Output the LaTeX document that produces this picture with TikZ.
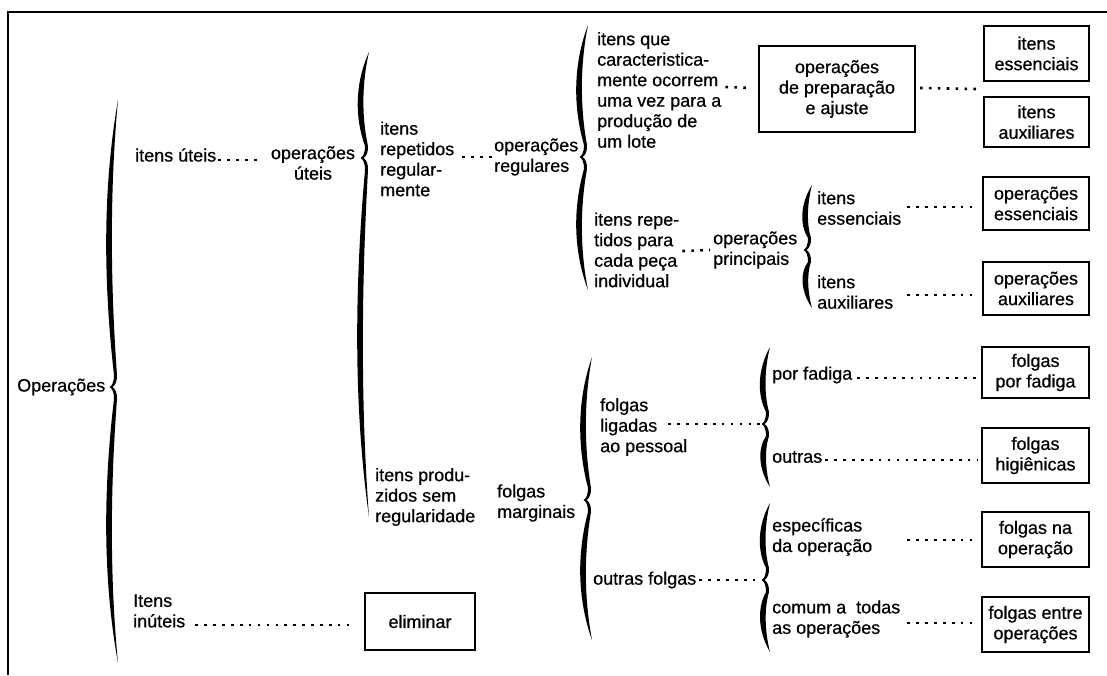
\documentclass[tikz,border=0pt]{standalone}
\usepackage{fontspec}
\setmainfont{Liberation Sans}
\newfontfamily\heavyfont{Liberation Sans}[FakeBold=0.6]
\usetikzlibrary{calc}
\newcommand\dfont{\heavyfont\fontsize{18}{20.5}\selectfont}
% Hand-drawn style curly brace "{": spine x, top end, tip, bottom end
\newcommand\curlybrace[4]{%
  \pgfmathsetmacro\cbX{#1}%
  \pgfmathsetmacro\cbT{#2}%
  \pgfmathsetmacro\cbM{#3}%
  \pgfmathsetmacro\cbB{#4}%
  \pgfmathsetmacro\cbhT{\cbM-\cbT}%
  \pgfmathsetmacro\cbhB{\cbB-\cbM}%
  \pgfmathsetmacro\cbdT{min(6,0.05*\cbhT)}%
  \pgfmathsetmacro\cbdB{min(6,0.05*\cbhB)}%
  \pgfmathsetmacro\cbE{\cbX+2}%
  \pgfmathsetmacro\cbLt{\cbX-\cbdT-7}%
  \pgfmathsetmacro\cbRt{\cbX-\cbdT}%
  \pgfmathsetmacro\cbLb{\cbX-\cbdB-7}%
  \pgfmathsetmacro\cbRb{\cbX-\cbdB}%
  \pgfmathsetmacro\cbQ{\cbX+1}%
  \pgfmathsetmacro\cbQL{\cbX-2}%
  \pgfmathsetmacro\cbP{\cbX-6.5}%
  \pgfmathsetmacro\cbPa{\cbX-4.5}%
  \pgfmathsetmacro\cbN{\cbX-3.5}%
  \pgfmathsetmacro\cbta{\cbT+0.3*\cbhT}%
  \pgfmathsetmacro\cbtb{\cbT+0.62*\cbhT}%
  \pgfmathsetmacro\cbtq{\cbM-12}%
  \pgfmathsetmacro\cbtr{\cbM-4}%
  \pgfmathsetmacro\cbts{\cbM-6}%
  \pgfmathsetmacro\cbba{\cbB-0.3*\cbhB}%
  \pgfmathsetmacro\cbbb{\cbB-0.62*\cbhB}%
  \pgfmathsetmacro\cbbq{\cbM+12}%
  \pgfmathsetmacro\cbbr{\cbM+4}%
  \pgfmathsetmacro\cbbs{\cbM+6}%
  \pgfmathsetmacro\cbMu{\cbM-1}%
  \pgfmathsetmacro\cbMd{\cbM+1}%
  \pgfmathsetmacro\cbMuu{\cbM-2.5}%
  \pgfmathsetmacro\cbMdd{\cbM+2.5}%
  \fill (\cbE,\cbT) .. controls (\cbLt,\cbta) and (\cbLt,\cbtb) .. (\cbQL,\cbtq)
     .. controls (\cbQL,\cbtr) and (\cbPa,\cbMu) .. (\cbP,\cbM)
     .. controls (\cbPa,\cbMd) and (\cbQL,\cbbr) .. (\cbQL,\cbbq)
     .. controls (\cbLb,\cbbb) and (\cbLb,\cbba) .. (\cbE,\cbB)
     .. controls (\cbRb,\cbba) and (\cbRb,\cbbb) .. (\cbQ,\cbbq)
     .. controls (\cbQ,\cbbs) and (\cbX,\cbMdd) .. (\cbN,\cbM)
     .. controls (\cbX,\cbMuu) and (\cbQ,\cbts) .. (\cbQ,\cbtq)
     .. controls (\cbRt,\cbtb) and (\cbRt,\cbta) .. (\cbE,\cbT) -- cycle;
}
\begin{document}
\begin{tikzpicture}[x=1pt,y=-1pt,
  lbl/.style={font=\dfont, inner sep=0pt, align=left, anchor=west},
  clbl/.style={font=\dfont, inner sep=0pt, align=center},
  cbox/.style={draw, line width=2pt, font=\dfont, align=center, inner sep=0pt},
  dotline/.style={line width=2.6pt, dash pattern=on 2.6pt off 6.3pt}]
\useasboundingbox (0,0) rectangle (1107,675);

% frame
\draw[line width=2pt] (8,675) -- (8,12) -- (1107,12);

% braces
\curlybrace{116}{100}{387}{663}
\curlybrace{367}{52}{158}{517}
\curlybrace{586}{25}{157}{290}
\curlybrace{810}{185}{250}{308}
\curlybrace{768}{347}{424}{487}
\curlybrace{768}{503}{580}{652}
\curlybrace{590}{357}{500}{640}
\coordinate (b5tip) at (760,424);
\coordinate (b6tip) at (760,580);

% labels
\node[lbl] (op) at (17,387) {Operações};
\node[lbl] (iu) at (135,155) {itens úteis};
\node[clbl] (ou) at (313,163) {operações\\úteis};
\node[lbl] (irr) at (380,159) {itens\\repetidos\\regular-\\mente};
\node[lbl] (ipr) at (375,497) {itens produ-\\zidos sem\\regularidade};
\node[lbl] (oreg) at (494,157) {operações\\regulares};
\node[lbl] (fm) at (497,503) {folgas\\marginais};
\node[lbl] (ique) at (597,90) {itens que\\caracteristica-\\mente ocorrem\\uma vez para a\\produção de\\um lote};
\node[lbl] (irp) at (594,250) {itens repe-\\tidos para\\cada peça\\individual};
\node[lbl] (oprin) at (713,250) {operações\\principais};
\node[lbl] (ie) at (817,208) {itens\\essenciais};
\node[lbl] (ia) at (817,292) {itens\\auxiliares};
\node[lbl] (flp) at (600,427) {folgas\\ligadas\\ao pessoal};
\node[lbl] (of) at (593,580) {outras folgas};
\node[lbl] (pf) at (772,375) {por fadiga};
\node[lbl] (ou2) at (772,457) {outras};
\node[lbl] (esp) at (772,537) {específicas\\da operação};
\node[lbl] (com) at (772,619) {comum a\ \ todas\\as operações};
\node[lbl] (ii) at (133,611) {Itens\\inúteis};

% boxes
\node[cbox, minimum width=156pt, minimum height=86pt] (prep) at (837,89) {operações\\de preparação\\e ajuste};
\node[cbox, minimum width=105pt, minimum height=55pt] (bie) at (1036.5,53.5) {itens\\essenciais};
\node[cbox, minimum width=105pt, minimum height=50pt] (bia) at (1036.5,122) {itens\\auxiliares};
\node[cbox, minimum width=106pt, minimum height=53pt] (boe) at (1036,203.5) {operações\\essenciais};
\node[cbox, minimum width=106pt, minimum height=53pt] (boa) at (1036,288.5) {operações\\auxiliares};
\node[cbox, minimum width=107pt, minimum height=51pt] (bff) at (1035.5,372.5) {folgas\\por fadiga};
\node[cbox, minimum width=107pt, minimum height=55pt] (bfh) at (1035.5,455.5) {folgas\\higiênicas};
\node[cbox, minimum width=107pt, minimum height=55pt] (bfo) at (1035.5,539.5) {folgas na\\operação};
\node[cbox, minimum width=107pt, minimum height=55pt] (bfe) at (1035.5,624.5) {folgas entre\\operações};
\node[cbox, minimum width=110pt, minimum height=57pt] (elim) at (420,621.5) {eliminar};

% dotted connectors
\draw[dotline] ([xshift=2pt,yshift=-5pt]iu.east) -- ([xshift=-12pt,yshift=3pt]ou.west);
\draw[dotline] ([xshift=8pt,yshift=2pt]irr.east) -- ([xshift=-2pt]oreg.west);
\draw[dotline] ([xshift=4pt,yshift=3pt]ique.east) -- ([xshift=-6pt,yshift=1pt]prep.west);
\draw[dotline] ([xshift=4pt,yshift=1pt]prep.east) -- ($(bie.south west)!0.5!(bia.north west)+(-6,0)$);
\draw[dotline] ([xshift=3pt,yshift=-1pt]irp.east) -- ([xshift=-3pt]oprin.west);
\draw[dotline] ([xshift=6pt,yshift=1pt]ie.east) -- ([xshift=-6pt,yshift=-3.5pt]boe.west);
\draw[dotline] ([xshift=14pt,yshift=-3pt]ia.east) -- ([xshift=-6pt,yshift=-6.5pt]boa.west);
\draw[dotline] ([xshift=-19pt,yshift=3pt]flp.east) -- (b5tip);
\draw[dotline] ([xshift=3pt]of.east) -- (b6tip);
\draw[dotline] ([xshift=5pt,yshift=-3pt]pf.east) -- ([xshift=-3pt,yshift=-5.5pt]bff.west);
\draw[dotline] ([xshift=3pt,yshift=-3pt]ou2.east) -- ([xshift=-3pt,yshift=-4.5pt]bfh.west);
\draw[dotline] ([xshift=35pt,yshift=-3pt]esp.east) -- ([xshift=-3pt,yshift=-0.5pt]bfo.west);
\draw[dotline] ([xshift=7pt,yshift=-4pt]com.east) -- ([xshift=-3pt,yshift=1.5pt]bfe.west);
\draw[dotline] ([xshift=10pt,yshift=-14pt]ii.east) -- ([xshift=-9pt,yshift=-3.5pt]elim.west);
\end{tikzpicture}
\end{document}
